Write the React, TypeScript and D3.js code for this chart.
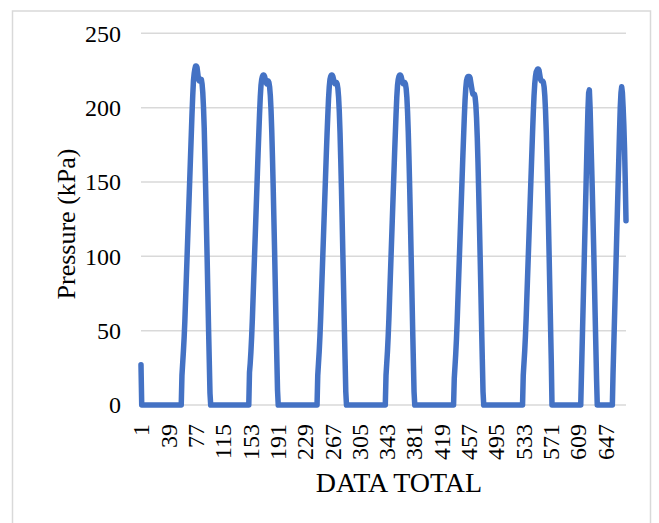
import React, { useEffect, useRef } from 'react'
import * as d3 from 'd3'

// pressure readings: an initial value, then idle runs of zeros and load pulses
const startValue = [27]
const idleLengths = [56, 54, 55, 55, 55, 55, 41, 22]

const pulse1 = [20, 28, 36, 45, 56, 70, 84, 98, 112, 126, 140, 154, 168, 182, 196, 208, 218, 223, 226, 228,
	228, 227, 223, 219, 218, 218, 218, 219, 216, 210, 200, 186, 166, 145, 122, 100, 76, 52, 30, 8]
const pulse2 = [22, 28, 36, 46, 58, 72, 86, 100, 114, 128, 142, 156, 170, 183, 196, 207, 215, 219, 221, 222,
	222, 221, 219, 217, 216, 217, 218, 217, 214, 208, 198, 184, 166, 146, 124, 102, 78, 54, 32, 10]
const pulse3 = [20, 28, 36, 46, 58, 72, 86, 100, 114, 128, 142, 156, 170, 183, 195, 206, 214, 219, 221, 222,
	222, 221, 219, 217, 216, 216, 217, 216, 213, 207, 197, 183, 165, 145, 123, 100, 77, 53, 31, 9]
const pulse4 = [20, 28, 36, 46, 58, 72, 86, 100, 114, 128, 142, 156, 170, 183, 196, 207, 215, 219, 221, 222,
	222, 221, 219, 217, 216, 216, 217, 216, 213, 207, 197, 183, 165, 145, 123, 100, 77, 53, 31, 9]
const pulse5 = [18, 26, 34, 44, 56, 70, 84, 98, 112, 126, 140, 154, 168, 181, 194, 205, 213, 218, 220, 221,
	221, 221, 220, 217, 214, 211, 209, 209, 209, 207, 202, 193, 180, 163, 143, 122, 100, 77, 53, 31, 9]
const pulse6 = [20, 28, 36, 46, 58, 72, 86, 100, 114, 128, 142, 156, 170, 184, 197, 208, 216, 221, 224, 225,
	226, 226, 225, 222, 219, 218, 218, 218, 217, 214, 208, 198, 184, 166, 146, 124, 101, 77, 53, 30]
const pulse7 = [20, 40, 60, 80, 100, 120, 140, 160, 180, 198, 210, 212, 200, 182, 164, 146, 126, 106, 84, 62, 40, 18]
const pulse8 = [22, 40, 58, 76, 94, 112, 130, 148, 166, 184, 200, 210, 214, 210, 200, 188, 172, 150, 124]

const pulses = [pulse1, pulse2, pulse3, pulse4, pulse5, pulse6, pulse7, pulse8]

const xTickLabels = ['1', '39', '77', '115', '153', '191', '229', '267', '305', '343', '381', '419',
	'457', '495', '533', '571', '609', '647']
const yTicks = [0, 50, 100, 150, 200, 250]

const pressure: number[] = [...startValue]
pulses.forEach((p, i) => {
	for (let k = 0; k < idleLengths[i]; k++) pressure.push(0)
	pressure.push(...p)
})
const chartData = pressure.map((v, i) => ({ n: i + 1, value: v }))

const FONT = '"Times New Roman", "Liberation Serif", serif'

const App = () => {
	const ref = useRef<SVGSVGElement>(null)

	useEffect(() => {
		const svg = d3.select(ref.current)
		svg.selectAll('*').remove()

		const xScale = d3.scaleLinear().domain([1, chartData.length]).range([141, 626])
		const yScale = d3.scaleLinear().domain([0, 250]).range([405, 33.3])

		// chart border
		svg.append('rect')
			.attr('x', 12.5)
			.attr('y', 11)
			.attr('width', 638)
			.attr('height', 540)
			.attr('fill', 'none')
			.attr('stroke', '#d9d9d9')
			.attr('stroke-width', 1.5)

		svg.append('g')
			.selectAll('line')
			.data(yTicks)
			.join('line')
			.attr('x1', 141)
			.attr('x2', 626)
			.attr('y1', d => yScale(d))
			.attr('y2', d => yScale(d))
			.attr('stroke', '#d9d9d9')
			.attr('stroke-width', 1.5)

		svg.append('g')
			.selectAll('text')
			.data(yTicks)
			.join('text')
			.attr('x', 121)
			.attr('y', d => yScale(d))
			.attr('dy', '0.35em')
			.attr('text-anchor', 'end')
			.attr('font-family', FONT)
			.attr('font-size', 24)
			.text(d => d)

		svg.append('g')
			.selectAll('text')
			.data(xTickLabels)
			.join('text')
			.attr('transform', d => `translate(${xScale(+d)}, 424) rotate(-90)`)
			.attr('dy', '0.35em')
			.attr('text-anchor', 'end')
			.attr('font-family', FONT)
			.attr('font-size', 24)
			.text(d => d)

		const lineGenerator = d3
			.line<{ n: number; value: number }>()
			.x(d => xScale(d.n))
			.y(d => yScale(d.value))

		svg.append('path')
			.attr('d', lineGenerator(chartData))
			.attr('fill', 'none')
			.attr('stroke', '#4472C4')
			.attr('stroke-width', 5.5)
			.attr('stroke-linejoin', 'round')
			.attr('stroke-linecap', 'round')

		svg.append('text')
			.text('Pressure (kPa)')
			.attr('transform', 'translate(66, 224) rotate(-90)')
			.attr('dy', '0.35em')
			.attr('text-anchor', 'middle')
			.attr('font-family', FONT)
			.attr('font-size', 26)

		svg.append('text')
			.text('DATA TOTAL')
			.attr('x', 399)
			.attr('y', 492)
			.attr('text-anchor', 'middle')
			.attr('font-family', FONT)
			.attr('font-size', 28)
	}, [])

	return (
		<svg
			ref={ref}
			width={659}
			height={523}
			style={{ position: 'absolute', left: 0, top: 0, background: '#fff' }}
		/>
	)
}

export default App
